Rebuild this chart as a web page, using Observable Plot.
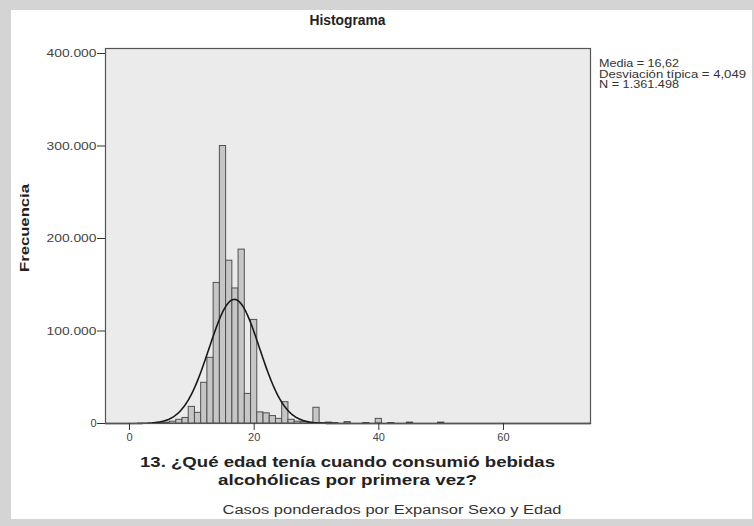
<!DOCTYPE html>
<html>
<head>
<meta charset="utf-8">
<script src="https://cdn.jsdelivr.net/npm/d3@7"></script>
<script src="https://cdn.jsdelivr.net/npm/@observablehq/plot@0.6"></script>
<style>
  html, body { margin: 0; padding: 0; background: #d4d4d4; }
  #wrap { position: relative; width: 754px; height: 526px; overflow: hidden; }
  #panel { position: absolute; left: 11px; top: 10px; width: 741px; height: 509px; background: #ffffff; }
  #chart { position: absolute; left: 0; top: 0; }
</style>
</head>
<body>
<div id="wrap"><div id="panel"></div><div id="chart"></div></div>
<script>
// ---- data ----
const ages  = [5, 6, 7, 8, 9, 10, 11, 12, 13, 14, 15, 16, 17, 18, 19, 20, 21, 22, 23, 24, 25, 26, 27, 28, 29, 30, 31, 32, 33, 35, 38, 40, 42, 45, 50];
const freqs = [500, 1000, 2000, 4000, 6000, 18000, 11500, 44000, 71000, 152000, 300000, 176000, 146000, 188000, 32000, 112000, 12000, 11000, 8000, 5000, 23000, 4000, 2000, 1500, 500, 17000, 500, 1000, 500, 1500, 500, 5000, 500, 1000, 1000];
const yTicks = [0, 100000, 200000, 300000, 400000];
const xTicks = [0, 20, 40, 60];
const statLines = ["Media = 16,62", "Desviación típica = 4,049", "N = 1.361.498"];
const meanAge = 16.82, sdAge = 4.049, nCases = 1361498, binWidth = 1;

const table = ages.map((a, i) => ({age: a, freq: freqs[i]}));
const xDomain = [-3.85, 73.96];
const curve = d3.range(xDomain[0], xDomain[1], 0.1).map(x => ({
  x,
  y: nCases * binWidth / (sdAge * Math.sqrt(2 * Math.PI)) * Math.exp(-0.5 * ((x - meanAge) / sdAge) ** 2)
}));

const fmt = d => d === 0 ? "0" : d3.format(",")(d).replace(/,/g, ".");

const chart = Plot.plot({
  width: 754, height: 526,
  marginLeft: 105, marginRight: 164, marginTop: 48, marginBottom: 103,
  style: {background: "transparent", fontFamily: "'Liberation Sans', Arial, sans-serif", fontSize: "11px", color: "#444"},
  x: {domain: xDomain},
  y: {domain: [0, 405400]},
  marks: [
    Plot.frame({fill: "#ebebeb"}),
    Plot.rectY(table, {x1: d => d.age - 0.5, x2: d => d.age + 0.5, y1: 0, y2: "freq", fill: "#c6c6c6", stroke: "#505050", strokeWidth: 1}),
    Plot.line(curve, {x: "x", y: "y", stroke: "#1a1a1a", strokeWidth: 1.6}),
    Plot.frame({stroke: "#555555", strokeWidth: 1.2}),
    Plot.axisX({ticks: xTicks, tickSize: 7, tickPadding: 3, label: null, stroke: "#333"}),
    Plot.axisY({ticks: yTicks, tickFormat: fmt, tickSize: 8, tickPadding: 1, label: null, stroke: "#333"})
  ]
});
document.getElementById("chart").appendChild(chart);

const svg = d3.select(chart);
// widen y tick labels like the reference
svg.selectAll("g[aria-label='y-axis tick label'] text").each(function() {
  const t = d3.select(this);
  if (t.text().length > 3) t.attr("textLength", 50).attr("lengthAdjust", "spacingAndGlyphs");
});

function addText(str, x, y, opts) {
  const t = svg.append("text")
    .attr("x", x).attr("y", y)
    .attr("text-anchor", opts.anchor || "middle")
    .attr("font-family", "'Liberation Sans', Arial, sans-serif")
    .attr("font-size", opts.size)
    .attr("font-weight", opts.weight || "normal")
    .attr("fill", opts.fill || "#222")
    .text(str);
  if (opts.len) t.attr("textLength", opts.len).attr("lengthAdjust", "spacingAndGlyphs");
  if (opts.rotate) t.attr("transform", `rotate(${opts.rotate} ${x} ${y})`);
  return t;
}

addText("Histograma", 347.5, 25, {size: 14, weight: "bold", len: 76});
addText("Frecuencia", 29, 228, {size: 13, weight: "bold", len: 88, rotate: -90});
addText("13. ¿Qué edad tenía cuando consumió bebidas", 347.5, 467, {size: 14, weight: "bold", len: 415});
addText("alcohólicas por primera vez?", 347.5, 485, {size: 14, weight: "bold", len: 259});
addText("Casos ponderados por Expansor Sexo y Edad", 392, 514, {size: 12, fill: "#333", len: 339});
const statLens = [80, 147, 80];
statLines.forEach((s, i) => addText(s, 599, 67 + i * 10.5, {size: 10, anchor: "start", fill: "#333", len: statLens[i]}));
</script>
</body>
</html>
